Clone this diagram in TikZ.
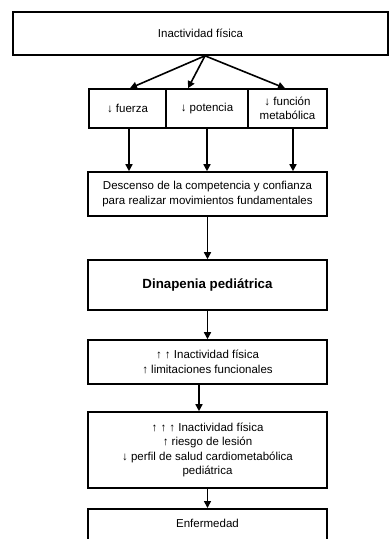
\documentclass[tikz,border=0pt]{standalone}
\usepackage{fontspec}
\setmainfont{Liberation Sans}
\usetikzlibrary{arrows.meta,calc}
\begin{document}
\begin{tikzpicture}[x=1pt,y=1pt,
  box/.style={draw,line width=1.6pt,align=center,inner sep=2pt,font=\fontsize{11.5}{14.5}\selectfont},
  arr/.style={line width=1.6pt,-{Triangle[length=7pt,width=7pt]}}]
\useasboundingbox (0,0) rectangle (390,-539);
\begin{scope}
\clip (0,0) rectangle (390,-539);
\node[box,minimum width=375pt,minimum height=43pt] (top) at (200.5,-33.5) {Inactividad física};
\node[box,minimum width=77pt,minimum height=39pt] (fuerza) at (127.5,-108.5) {↓ fuerza};
\node[box,minimum width=82pt,minimum height=39pt] (potencia) at (207,-108.5) {↓ potencia};
\node[box,minimum width=79pt,minimum height=39pt] (funcion) at (287.5,-108.5) {↓ función\\metabólica};
\node[box,minimum width=239pt,minimum height=44pt] (desc) at (207.5,-194) {Descenso de la competencia y confianza\\para realizar movimientos fundamentales};
\node[box,minimum width=239pt,minimum height=50pt,font=\fontsize{13.3}{15}\selectfont\bfseries] (dina) at (207.5,-285) {Dinapenia pediátrica};
\node[box,minimum width=239pt,minimum height=44pt] (b4) at (207.5,-362) {↑ ↑ Inactividad física\\↑ limitaciones funcionales};
\node[box,minimum width=239pt,minimum height=76pt] (b5) at (207.5,-450) {↑ ↑ ↑ Inactividad física\\↑ riesgo de lesión\\↓ perfil de salud cardiometabólica\\pediátrica};
\node[box,minimum width=239pt,minimum height=44pt,anchor=north,text depth=14pt] (b6) at (207.5,-508) {Enfermedad};
\coordinate (src) at ([xshift=4.5pt]top.south);
\draw[arr] (src) -- ([xshift=2.5pt]fuerza.north);
\draw[arr] (src) -- ([xshift=-19pt]potencia.north);
\draw[arr] (src) -- ([xshift=-2.5pt]funcion.north);
\draw[arr] ([xshift=1.5pt]fuerza.south) -- ([xshift=1.5pt]fuerza.south |- desc.north);
\draw[arr] (potencia.south) -- (potencia.south |- desc.north);
\draw[arr] ([xshift=5.5pt]funcion.south) -- ([xshift=5.5pt]funcion.south |- desc.north);
\draw[arr] (desc) -- (dina);
\draw[arr] (dina) -- (b4);
\draw[arr] ([xshift=-8.5pt]b4.south) -- ([xshift=-8.5pt]b4.south |- b5.north);
\draw[arr] (b5) -- (b6);
\end{scope}
\end{tikzpicture}
\end{document}
